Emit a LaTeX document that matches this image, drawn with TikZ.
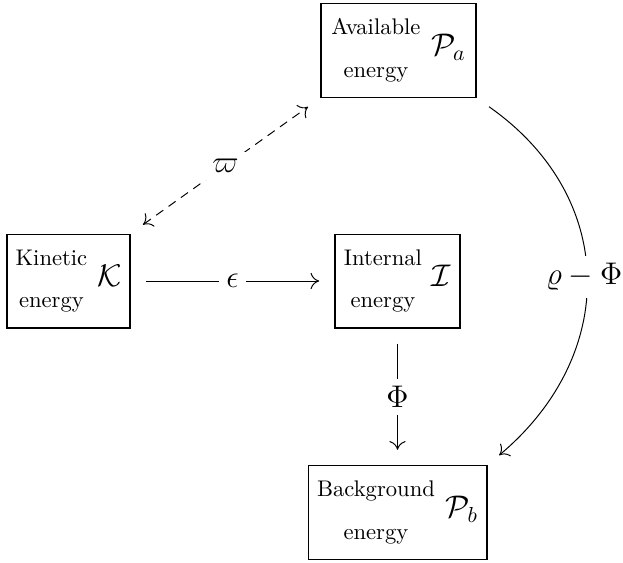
\documentclass[tikz,border=0pt]{standalone}
\usetikzlibrary{arrows.meta}
\newcommand{\boxtext}[2]{{\fontsize{10.4}{12.5}\selectfont\begin{tabular}{@{}c@{}}#1\\[7pt]#2\end{tabular}}}
\begin{document}
\begin{tikzpicture}[x=0.46pt,y=0.46pt,
  ebox/.style={draw, line width=0.5pt, minimum height=43.2pt, inner xsep=4pt},
  lbl/.style={fill=white, font=\Large},
  conn/.style={line width=0.45pt, -{To[length=4pt,width=7.5pt]}, shorten <=7pt, shorten >=7pt}]
\useasboundingbox (0,0) rectangle (623,-562);
\node[ebox, minimum width=71.3pt] (A) at (398.5,-50.5)
  {\boxtext{Available}{energy}\hspace{5pt}{\Large$\mathcal{P}_a$}};
\node[ebox, minimum width=56.6pt] (K) at (68.5,-281)
  {\boxtext{Kinetic}{energy}\hspace{4.5pt}{\Large$\mathcal{K}$}};
\node[ebox, minimum width=57.5pt] (I) at (397.5,-281)
  {\boxtext{Internal}{energy}\hspace{4.5pt}{\Large$\mathcal{I}$}};
\node[ebox, minimum width=82.3pt] (B) at (397.5,-512.5)
  {\boxtext{Background}{energy}\hspace{5pt}{\Large$\mathcal{P}_b$}};
\draw[conn] (K) -- node[lbl]{$\epsilon$} (I);
\draw[conn] (I) -- node[lbl]{$\Phi$} (B);
\draw[conn, {To[length=4pt,width=7.5pt]}-{To[length=4pt,width=7.5pt]}, dash pattern=on 4pt off 3pt]
  (K.north east) -- node[lbl]{$\varpi$} (A.south west);
\draw[conn] (A.south east) .. controls +(-35:172) and +(40:172) .. node[lbl]{$\varrho-\Phi$} (B.north east);
\end{tikzpicture}
\end{document}
